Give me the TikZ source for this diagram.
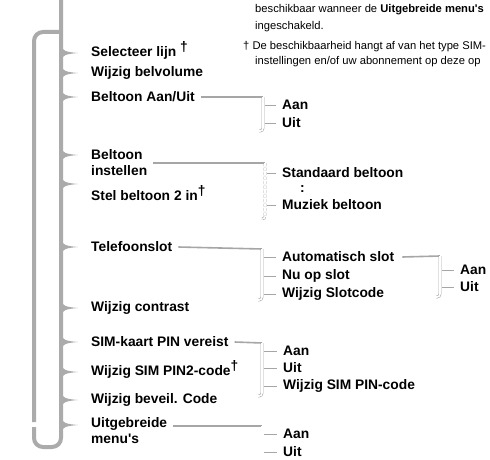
\documentclass[tikz,border=0pt]{standalone}
\usepackage{fontspec}
\setmainfont{Liberation Sans}
\usetikzlibrary{calc}
\tikzset{
  % grijze hoofdlus van het menu
  spine/.style={draw=black!33, line width=4pt, rounded corners=9pt},
  spike/.style={fill=black!33},
  % menu-items
  item/.style={font=\fontsize{13.8}{16}\selectfont\bfseries, anchor=west,
               inner sep=0pt, align=left},
  note/.style={font=\fontsize{11.2}{15}\selectfont, anchor=west, inner sep=0pt},
  % submenu-haken
  feed/.style={draw=black!35, line width=1.6pt},
  brk/.style={draw=black!35, line width=0.6pt, double=white,
              double distance=1.6pt, rounded corners=3pt},
  tick/.style={draw=black!35, line width=0.8pt},
}
\newcommand{\kruis}{\smash{\raisebox{5pt}{†}}}

\begin{document}
\begin{tikzpicture}[x=1pt, y=-1pt]
\useasboundingbox (0,0) rectangle (490,460);

% =================== TOELICHTING ===================
\node[note] (note1) at (255,10) {beschikbaar wanneer de \textbf{Uitgebreide menu\textquotesingle s}};
\node[note] (note2) at (255,27) {ingeschakeld.};
\node[note] (note3) at (243,47) {† De beschikbaarheid hangt af van het type SIM-};
\node[note] (note4) at (255,62) {instellingen en/of uw abonnement op deze op};

% =================== HOOFDLUS ===================
\draw[spine] (61,0) -- (61,447) -- (34,447) -- (34,427);
\draw[spine] (34,422) -- (34,32) -- (61,32);
\foreach \y in {53,73,97,155,184,247,308,342,372,400,425}
  \fill[spike] (61,\y-8) .. controls (62,\y-2) and (66,\y-1) .. (78,\y)
               .. controls (66,\y+1) and (62,\y+2) .. (61,\y+8) -- cycle;

% =================== MENU-ITEMS ===================
\node[item] (sel) at (91,53) {Selecteer lijn \kruis};
\node[item] (vol) at (91,73) {Wijzig belvolume};
\node[item] (belaan) at (91,97) {Beltoon Aan/Uit};
\node[item] (belinst) at (91,163) {Beltoon\\instellen};
\node[item] (bel2) at (91,196) {Stel beltoon 2 in\kruis};
\node[item] (slot) at (91,247) {Telefoonslot};
\node[item] (contrast) at (91,308) {Wijzig contrast};
\node[item] (pin) at (91,342) {SIM-kaart PIN vereist};
\node[item] (pin2) at (91,372) {Wijzig SIM PIN2-code\kruis};
\node[item] (beveil) at (91,400) {Wijzig beveil. Code};
\node[item] (uitgebr) at (91,431) {Uitgebreide\\menu\textquotesingle s};

% =================== SUBMENU'S ===================
% Beltoon Aan/Uit
\coordinate (bA) at (263,97);
\node[item] (aanA) at (282,105) {Aan};
\node[item] (uitA) at (282,123) {Uit};
\draw[feed] ([xshift=6pt]belaan.east) -- (bA);
\draw[brk] (bA) -- (263,131) -- (259,131);

% Beltoon instellen
\coordinate (bB) at (265,163);
\node[item] (std) at (282,173) {Standaard beltoon};
\node[item] (dots) at (300,189) {:};
\node[item] (muziek) at (282,205) {Muziek beltoon};
\draw[feed] ([xshift=6pt]belinst.east) -- (bB);
\draw[brk, dash pattern=on 3pt off 1.5pt] (bB) -- (265,219) -- (261,219);

% Telefoonslot
\coordinate (bC) at (262,249);
\node[item] (auto) at (282,257) {Automatisch slot};
\node[item] (nuop) at (282,276) {Nu op slot};
\node[item] (slotcode) at (282,294) {Wijzig Slotcode};
\draw[feed] ([xshift=6pt]slot.east) -- (bC);
\draw[brk] (bC) -- (262,300) -- (258,300);

% Automatisch slot
\coordinate (bD) at (440,256);
\node[item] (aanD) at (460,270) {Aan};
\node[item] (uitD) at (460,287) {Uit};
\draw[feed] ([xshift=8pt]auto.east) -- (bD);
\draw[brk] (bD) -- (440,297) -- (436,297);

% SIM-kaart PIN vereist
\coordinate (bE) at (262,343);
\node[item] (aanE) at (283,351) {Aan};
\node[item] (uitE) at (283,368) {Uit};
\node[item] (pincode) at (283,386) {Wijzig SIM PIN-code};
\draw[feed] ([xshift=6pt]pin.east) -- (bE);
\draw[brk] (bE) -- (262,396) -- (258,396);

% Uitgebreide menu's
\coordinate (bF) at (262,426);
\node[item] (aanF) at (283,434) {Aan};
\node[item] (uitF) at (283,452) {Uit};
\draw[feed] ($(uitgebr.east |- bF)+(6,0)$) -- (bF);
\draw[brk] (bF) -- (262,460);

% haakjes naar de subitems
\foreach \n/\b in {aanA/bA, uitA/bA, std/bB, muziek/bB, auto/bC, nuop/bC,
                   slotcode/bC, aanD/bD, uitD/bD, aanE/bE, uitE/bE,
                   pincode/bE, aanF/bF, uitF/bF}
  \draw[tick] ($(\b |- \n.west)+(2,0)$) -- ($(\n.west)+(-6,0)$);

\end{tikzpicture}
\end{document}
